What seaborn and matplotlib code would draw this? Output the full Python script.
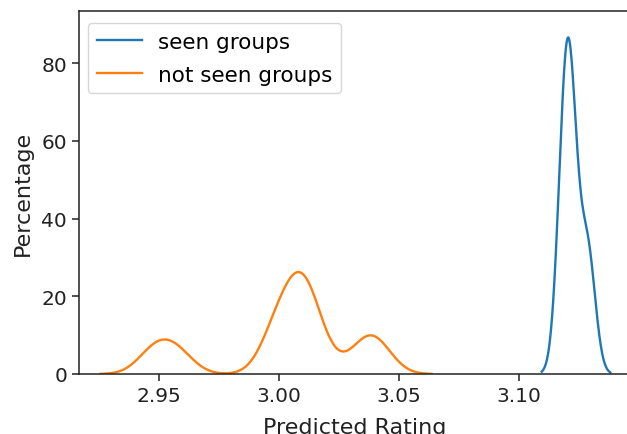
import pandas as pd
import matplotlib
matplotlib.use("Agg")
import matplotlib.pyplot as plt
import seaborn as sns

# predicted ratings (value -> how many groups got it)
seen_ratings = [3.1190, 3.1205, 3.1222, 3.1288]
seen_counts = [306, 173, 274, 246]

unseen_ratings = [2.9475, 2.9530, 2.9585, 2.9990, 3.0050, 3.0110, 3.0170, 3.0230, 3.0360, 3.0420]
unseen_counts = [80, 46, 69, 157, 111, 300, 34, 13, 108, 81]

seen = pd.DataFrame({'rating': seen_ratings, 'n': seen_counts})
unseen = pd.DataFrame({'rating': unseen_ratings, 'n': unseen_counts})

plt.rcParams['font.family'] = 'DejaVu Sans'
fig = plt.figure(figsize=(6.27, 4.35), dpi=100)
ax = fig.add_axes([79 / 627, 60 / 435, 551 / 627, 363 / 435])

sns.kdeplot(data=seen, x='rating', weights='n', bw_adjust=0.9555, cut=3,
            color='#1f77b4', linewidth=1.7, label='seen groups', ax=ax)
sns.kdeplot(data=unseen, x='rating', weights='n', bw_adjust=0.3327, cut=3,
            color='#ff7f0e', linewidth=1.7, label='not seen groups', ax=ax)

ax.set_xlim(2.9168, 3.1464)
ax.set_ylim(0, 93.4)
ax.set_xticks([2.95, 3.00, 3.05, 3.10])
ax.set_yticks([0, 20, 40, 60, 80])
ax.tick_params(labelsize=14.5, length=5, width=1.1, colors='#222222')
for sp in ax.spines.values():
    sp.set_linewidth(1.1)
    sp.set_color('#222222')

# the label sits at the bottom edge, partly cut like in the original screenshot
ax.set_xlabel('Predicted Rating', fontsize=16, labelpad=9, color='#222222')
ax.set_ylabel('Percentage', fontsize=16, labelpad=6, color='#222222')

ax.legend(loc='upper left', bbox_to_anchor=(9 / 551, 1 - 12 / 363), borderaxespad=0,
          fontsize=15.5, handlelength=2.1, handletextpad=0.75, labelspacing=0.6,
          frameon=True)

plt.savefig('out.png', dpi=100)
